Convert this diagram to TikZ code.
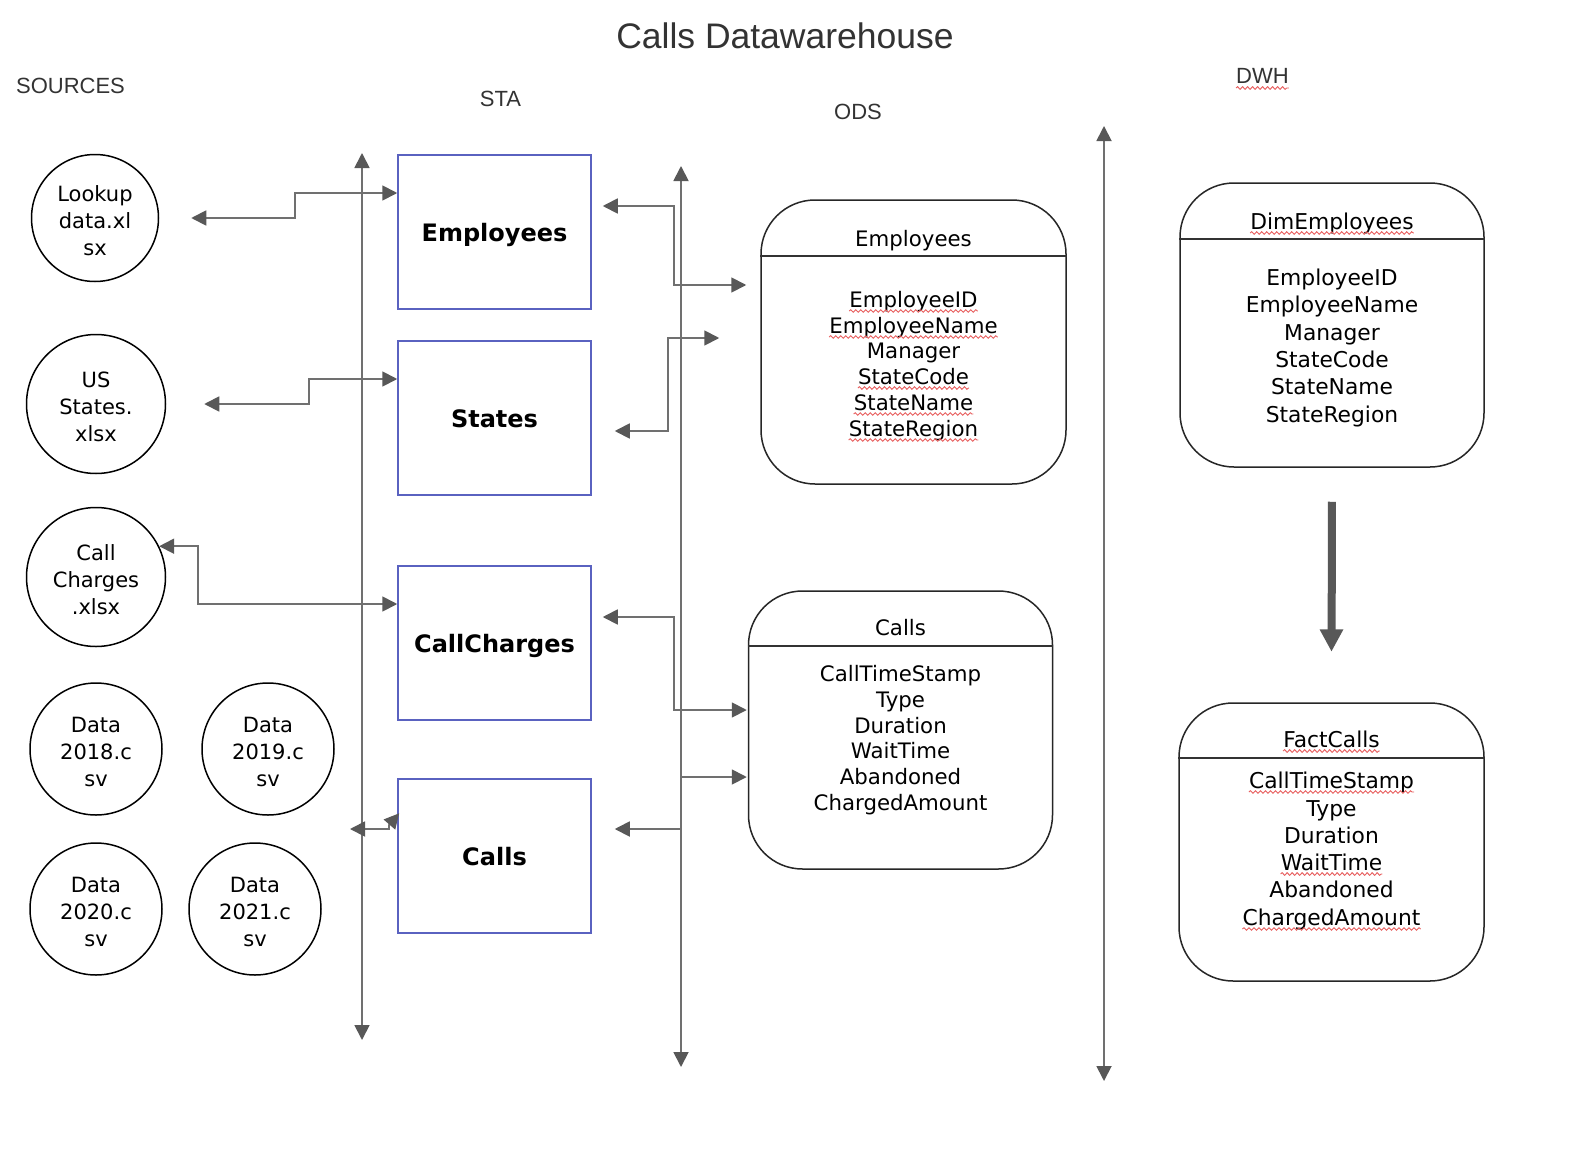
\documentclass[tikz,border=0pt]{standalone}
\usepackage{fontspec}
\setmainfont{DejaVu Sans}
\newfontfamily\arialf{Liberation Sans}
\usetikzlibrary{arrows.meta,decorations.pathmorphing,calc}
\definecolor{lgray}{HTML}{707070}
\definecolor{agray}{HTML}{585858}
\definecolor{sblue}{HTML}{5A62C0}
\definecolor{txtg}{HTML}{333333}
\definecolor{sqred}{HTML}{E86060}
\newcommand\squigu[1]{\draw[squig] ([yshift=-4pt]#1.base west) -- ([yshift=-4pt]#1.base east);}
\newcommand\myraise{\rule{0pt}{21pt}}
\begin{document}
\begin{tikzpicture}[x=1pt,y=-1pt,
  >={Triangle[length=15pt,width=15pt,color=agray]},
  conn/.style={draw=lgray,line width=1.8pt},
  src/.style={circle,draw=black,line width=1.5pt,align=center,inner sep=0pt,font=\fontsize{21}{27}\selectfont},
  stabox/.style={draw=sblue,line width=1.5pt,minimum width=193pt,minimum height=154pt,text height=18.2pt,text depth=0.2pt,font=\bfseries\fontsize{24}{28}\selectfont},
  rbox/.style={draw=black!85,line width=1.5pt,rounded corners=54pt},
  hdr/.style={draw=black!80,line width=1.5pt},
  fld/.style={anchor=base,inner sep=0pt,font=\fontsize{21.3}{25}\selectfont},
  fldd/.style={anchor=base,inner sep=0pt,font=\fontsize{21.8}{26}\selectfont},
  lbl/.style={font=\arialf\fontsize{22}{26}\selectfont,text=txtg},
  squig/.style={draw=sqred,line width=0.9pt,decorate,decoration={snake,amplitude=1.3pt,segment length=5pt}}
]
\fill[white] (0,0) rectangle (1571,1156);
\useasboundingbox (0,0) rectangle (1571,1156);

% titles
\node[font=\arialf\fontsize{35.5}{40}\selectfont,text=txtg] (title) at (785,36) {Calls Datawarehouse};
\node[lbl] (lsrc) at (70.5,86) {SOURCES};
\node[lbl] (lsta) at (500.5,99) {STA};
\node[lbl] (lods) at (858,112) {ODS};
\node[lbl,anchor=base,inner sep=0pt] (ldwh) at (1262.5,84) {DWH};
\squigu{ldwh}

% vertical lines
\coordinate (staT) at (362,153); \coordinate (staB) at (362,1040);
\coordinate (odsT) at (681,166); \coordinate (odsB) at (681,1067);
\coordinate (dwhT) at (1104,126); \coordinate (dwhB) at (1104,1081);
\draw[conn,<->] (staT) -- (staB);
\draw[conn,<->] (odsT) -- (odsB);
\draw[conn,<->] (dwhT) -- (dwhB);

% sources
\node[src,minimum size=127pt] (lookup) at (95,218) {\myraise Lookup\\data.xl\\sx};
\node[src,minimum size=139pt] (usst) at (96,404) {\myraise US\\States.\\xlsx};
\node[src,minimum size=139pt] (callch) at (96,577) {\myraise Call\\Charges\\.xlsx};
\node[src,minimum size=132pt] (d18) at (96,749) {\myraise Data\\2018.c\\sv};
\node[src,minimum size=132pt] (d19) at (268,749) {\myraise Data\\2019.c\\sv};
\node[src,minimum size=132pt] (d20) at (96,909) {\myraise Data\\2020.c\\sv};
\node[src,minimum size=132pt] (d21) at (255,909) {\myraise Data\\2021.c\\sv};

% STA boxes
\node[stabox] (staemp) at (494.5,232) {Employees};
\node[stabox] (stast) at (494.5,418) {States};
\node[stabox] (stacc) at (494.5,643) {CallCharges};
\node[stabox] (staca) at (494.5,856) {Calls};

% ODS Employees
\node[rbox,minimum width=305pt,minimum height=284pt] (odsemp) at (913.5,342) {};
\draw[hdr] (odsemp.west |- 0,256) -- (odsemp.east |- 0,256);
\node[fld] (oet) at (913.5,246) {Employees};
\node[fld] (oe1) at (913.5,307) {EmployeeID};
\node[fld] (oe2) at (913.5,333) {EmployeeName};
\node[fld] (oe3) at (913.5,358) {Manager};
\node[fld] (oe4) at (913.5,384) {StateCode};
\node[fld] (oe5) at (913.5,410) {StateName};
\node[fld] (oe6) at (913.5,436) {StateRegion};
\squigu{oe1}\squigu{oe2}\squigu{oe4}\squigu{oe5}\squigu{oe6}

% ODS Calls
\node[rbox,minimum width=304pt,minimum height=278pt] (odscalls) at (900.5,730) {};
\draw[hdr] (odscalls.west |- 0,646) -- (odscalls.east |- 0,646);
\node[fld] (oct) at (900.5,635) {Calls};
\node[fld] (oc1) at (900.5,681) {CallTimeStamp};
\node[fld] (oc2) at (900.5,707) {Type};
\node[fld] (oc3) at (900.5,733) {Duration};
\node[fld] (oc4) at (900.5,758) {WaitTime};
\node[fld] (oc5) at (900.5,784) {Abandoned};
\node[fld] (oc6) at (900.5,810) {ChargedAmount};

% DWH DimEmployees
\node[rbox,minimum width=304pt,minimum height=284pt] (dim) at (1332,325) {};
\draw[hdr] (dim.west |- 0,239) -- (dim.east |- 0,239);
\node[fldd] (dt) at (1332,229) {DimEmployees};
\node[fldd] (d1) at (1332,285) {EmployeeID};
\node[fldd] (d2) at (1332,312) {EmployeeName};
\node[fldd] (d3) at (1332,340) {Manager};
\node[fldd] (d4) at (1332,367) {StateCode};
\node[fldd] (d5) at (1332,394) {StateName};
\node[fldd] (d6) at (1332,422) {StateRegion};
\squigu{dt}

% DWH FactCalls
\node[rbox,minimum width=305pt,minimum height=278pt] (fact) at (1331.5,842) {};
\draw[hdr] (fact.west |- 0,758) -- (fact.east |- 0,758);
\node[fldd] (ft) at (1331.5,747) {FactCalls};
\node[fldd] (f1) at (1331.5,788) {CallTimeStamp};
\node[fldd] (f2) at (1331.5,816) {Type};
\node[fldd] (f3) at (1331.5,843) {Duration};
\node[fldd] (f4) at (1331.5,870) {WaitTime};
\node[fldd] (f5) at (1331.5,897) {Abandoned};
\node[fldd] (f6) at (1331.5,925) {ChargedAmount};
\squigu{ft}\squigu{f1}\squigu{f4}\squigu{f6}

% connectors sources <-> STA
\draw[conn,<->,shorten <=32pt] (lookup.east) -- (295,218) |- (staemp.west |- 0,193);
\draw[conn,<->,shorten <=38pt] (usst.east) -- (309,404) |- (stast.west |- 0,379);
\draw[conn,<->] (callch.26) -| (198,604) -- (stacc.west |- 0,604);
\coordinate (caL) at (350,829);
\draw[conn,<->] (caL) -- (389,829) -- (389,825) -- ([xshift=2pt,yshift=-35pt]staca.north west);

% connectors STA <-> ODS
\draw[conn,<->,shorten <=11pt,shorten >=14pt] (staemp.east |- 0,206) -| (674,285) -- (odsemp.west |- 0,285);
\draw[conn,<->,shorten <=23pt,shorten >=41pt] (stast.east |- 0,431) -| (668,338) -- (odsemp.west |- 0,338);
\draw[conn,<->,shorten <=11pt,shorten >=1pt] (stacc.east |- 0,617) -| (674,710) -- (odscalls.west |- 0,710);
\draw[conn,<->,shorten <=23pt,shorten >=1pt] (staca.east |- 0,829) -| (681,777) -- (odscalls.west |- 0,777);

% DWH arrow (thick shaft + head)
\draw[draw=agray,line width=8pt,line cap=butt,shorten <=34pt,shorten >=72pt] (dim.south) -- (fact.north);
\fill[agray] ([yshift=51pt]fact.north) -- ([xshift=-12pt,yshift=73pt]fact.north) -- ([xshift=12pt,yshift=73pt]fact.north) -- cycle;
\end{tikzpicture}
\end{document}
